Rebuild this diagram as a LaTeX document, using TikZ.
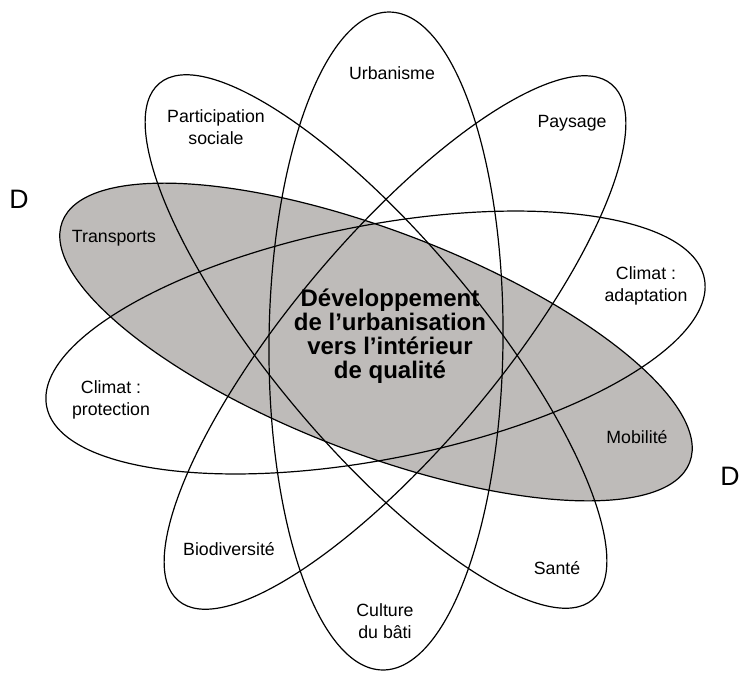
\documentclass[tikz,border=0pt]{standalone}
\usepackage{fontspec}
\setmainfont{Liberation Sans}
\definecolor{petal}{RGB}{190,187,185}
\tikzset{
  petalline/.style={draw=black, line width=0.9pt},
  lbl/.style={align=center, font=\fontsize{13.3}{16.5}\selectfont, inner sep=0pt},
  title/.style={align=center, font=\fontsize{18}{18}\selectfont\bfseries, inner sep=0pt},
  corner/.style={font=\fontsize{20}{20}\selectfont, inner sep=0pt}
}
\begin{document}
\begin{tikzpicture}[x=0.75pt, y=-0.75pt]
\useasboundingbox (0,0) rectangle (741,672);
% gray filled ellipse (Transports / Mobilite)
\fill[petal] (376,342) circle [x radius=252pt, y radius=83.25pt, rotate=-21];
% outlines
\draw[petalline] (376,342) circle [x radius=252pt, y radius=83.25pt, rotate=-21];
\draw[petalline] (386,341) circle [x radius=246.75pt, y radius=87.75pt, rotate=89.4];
\draw[petalline] (376,341.5) circle [x radius=252.75pt, y radius=78pt, rotate=-50];
\draw[petalline] (395,342.5) circle [x radius=252.75pt, y radius=78pt, rotate=50];
\draw[petalline] (375.5,342.5) circle [x radius=251.25pt, y radius=87.75pt, rotate=11];
% labels
\node[lbl] (urb) at (392,73) {Urbanisme};
\node[lbl] (part) at (216,127) {Participation\\sociale};
\node[lbl] (pays) at (572,123) {Paysage};
\node[lbl] (trans) at (114,238) {Transports};
\node[lbl] (adapt) at (646,286) {Climat :\\adaptation};
\node[lbl] (prot) at (111,400) {Climat :\\protection};
\node[lbl] (mob) at (637,437) {Mobilité};
\node[lbl] (bio) at (229,549) {Biodiversité};
\node[lbl] (sante) at (557,568) {Santé};
\node[lbl] (cult) at (385,621) {Culture\\du bâti};
\node[title] (centre) at (390,336) {Développement\\de l’urbanisation\\vers l’intérieur\\de qualité};
\node[corner] (dl) at (19,199) {D};
\node[corner, anchor=east] (dr) at (740,476) {D};
\end{tikzpicture}
\end{document}
